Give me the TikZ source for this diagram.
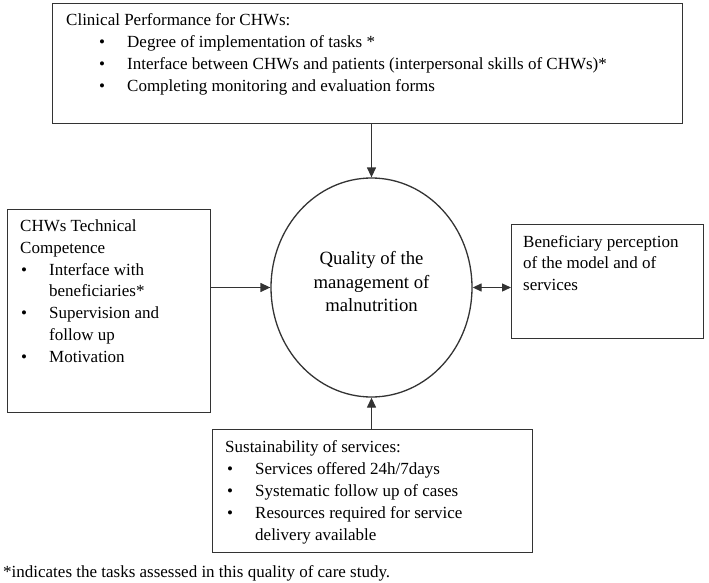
\documentclass[tikz,border=0pt]{standalone}
\usepackage{fontspec}
\setmainfont{Liberation Serif}
\usetikzlibrary{arrows.meta,shapes.geometric}

\newcommand{\itm}{\makebox[28pt][l]{\textbullet}}
\newcommand{\cont}{\hspace*{28pt}}

\tikzset{
  box/.style={draw=black!80, rectangle, anchor=north west, inner sep=0pt, line width=1.3pt},
  txt/.style={anchor=north west, align=left, inner sep=0pt, font=\fontsize{17}{21.8}\selectfont},
  arr/.style={-{Triangle[length=10pt,width=9pt]}, draw=black!80, line width=1.3pt},
  dbl/.style={{Triangle[length=9pt,width=8pt]}-{Triangle[length=9pt,width=8pt]}, draw=black!80, line width=1.3pt}
}

\begin{document}
\begin{tikzpicture}[x=1pt,y=-1pt]
  \useasboundingbox (0,0) rectangle (709,583);

  % boxes and the centre
  \node[box, minimum width=630, minimum height=120] (perf) at (52,3) {};
  \node[box, minimum width=203, minimum height=203] (tech) at (7,209) {};
  \node[box, minimum width=192, minimum height=114] (benef) at (511,224) {};
  \node[box, minimum width=320, minimum height=123] (sust) at (212,429) {};
  \node[ellipse, draw=black!80, line width=1.3pt, inner sep=0pt,
        minimum width=201, minimum height=219] (qual) at (371.5,287.5) {};

  % texts (first baseline = top + 15.3)
  \node[txt] (perftxt) at (66,10.5) {\strut Clinical Performance for CHWs:\\
    \hspace*{33pt}\itm Degree of implementation of tasks *\\
    \hspace*{33pt}\itm Interface between CHWs and patients (interpersonal skills of CHWs)*\\
    \hspace*{33pt}\itm Completing monitoring and evaluation forms};
  \node[txt] (techtxt) at (20,216) {\strut CHWs Technical\\
    Competence\\
    \hspace*{1pt}\itm Interface with\\
    \hspace*{1pt}\cont beneficiaries*\\
    \hspace*{1pt}\itm Supervision and\\
    \hspace*{1pt}\cont follow up\\
    \hspace*{1pt}\itm Motivation};
  \node[txt] (beneftxt) at (523,231.7) {\strut Beneficiary perception\\
    of the model and of\\
    services};
  \node[txt] (susttxt) at (225,437.5) {\strut Sustainability of services:\\
    \hspace*{2pt}\itm Services offered 24h/7days\\
    \hspace*{2pt}\itm Systematic follow up of cases\\
    \hspace*{2pt}\itm Resources required for service\\
    \hspace*{2pt}\cont delivery available};
  \node[anchor=base, align=center, inner sep=0pt,
        font=\fontsize{18.7}{23.5}\selectfont] (qualtxt) at (371.5,311.5)
    {Quality of the\\ management of\\ malnutrition};
  \node[anchor=base west, inner sep=0pt, font=\fontsize{17}{21.8}\selectfont] (note) at (3,577)
    {*indicates the tasks assessed in this quality of care study.};

  % connectors
  \draw[arr] (perf.south -| qual.north) -- (qual.north);
  \draw[arr] (tech.east |- qual.west) -- (qual.west);
  \draw[arr] (sust.north -| qual.south) -- (qual.south);
  \draw[dbl] (qual.east) -- (benef.west |- qual.east);
\end{tikzpicture}
\end{document}
